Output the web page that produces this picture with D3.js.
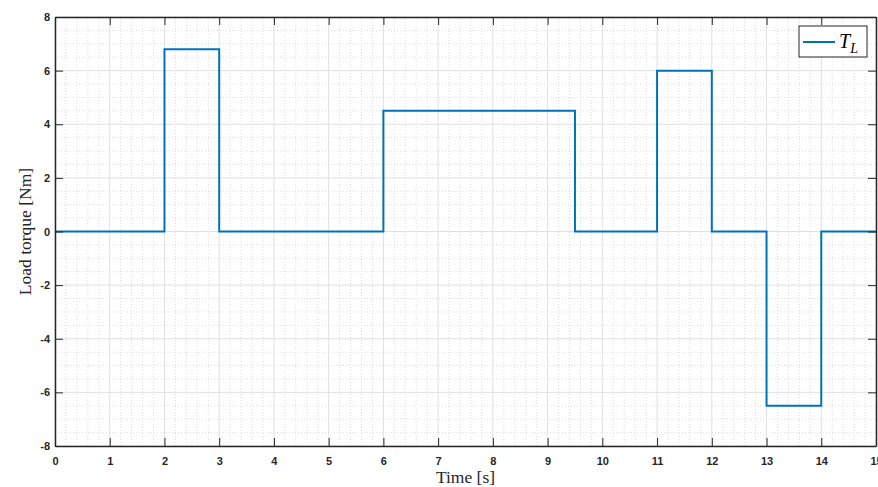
<!DOCTYPE html>
<html>
<head>
<meta charset="utf-8">
<script src="https://cdn.jsdelivr.net/npm/d3@7"></script>
<style>
  body { margin: 0; background: #fff; }
</style>
</head>
<body>
<div id="chart"></div>
<script>
// load torque step profile: value holds from each time until the next one
const stepTimes = [0, 2, 3, 6, 9.5, 11, 12, 13, 14, 15];
const stepValues = [0, 6.8, 0, 4.5, 0, 6, 0, -6.5, 0, 0];
const xTicks = [0, 1, 2, 3, 4, 5, 6, 7, 8, 9, 10, 11, 12, 13, 14, 15];
const yTicks = [-8, -6, -4, -2, 0, 2, 4, 6, 8];

const width = 878, height = 487;
const margin = { top: 17, right: 2, bottom: 41, left: 55 };

const svg = d3.select('#chart').append('svg')
    .attr('width', width)
    .attr('height', height);

const x = d3.scaleLinear().domain([0, 15]).range([margin.left, width - margin.right]);
const y = d3.scaleLinear().domain([-8, 8]).range([height - margin.bottom, margin.top]);

const grid = svg.append('g');
// minor grid
grid.selectAll('.mx')
    .data(d3.range(0, 15.01, 0.2).filter(v => Math.abs(v - Math.round(v)) > 1e-6))
    .enter().append('line')
    .attr('x1', d => x(d)).attr('x2', d => x(d))
    .attr('y1', y(-8)).attr('y2', y(8))
    .attr('stroke', '#d4d4d4').attr('stroke-width', 0.8)
    .attr('stroke-dasharray', '1,2');
grid.selectAll('.my')
    .data(d3.range(-8, 8.01, 0.5).filter(v => Math.abs(v / 2 - Math.round(v / 2)) > 1e-6))
    .enter().append('line')
    .attr('y1', d => y(d)).attr('y2', d => y(d))
    .attr('x1', x(0)).attr('x2', x(15))
    .attr('stroke', '#d4d4d4').attr('stroke-width', 0.8)
    .attr('stroke-dasharray', '1,2');
// major grid
grid.selectAll('.gx').data(xTicks).enter().append('line')
    .attr('x1', d => x(d)).attr('x2', d => x(d))
    .attr('y1', y(-8)).attr('y2', y(8))
    .attr('stroke', '#e0e0e0').attr('stroke-width', 1);
grid.selectAll('.gy').data(yTicks).enter().append('line')
    .attr('y1', d => y(d)).attr('y2', d => y(d))
    .attr('x1', x(0)).attr('x2', x(15))
    .attr('stroke', '#e0e0e0').attr('stroke-width', 1);

// data line
const line = d3.line()
    .x((d, i) => x(stepTimes[i]))
    .y(d => y(d))
    .curve(d3.curveStepAfter);
svg.append('path')
    .datum(stepValues)
    .attr('fill', 'none')
    .attr('stroke', '#0072BD')
    .attr('stroke-width', 2)
    .attr('d', line);

// axes, MATLAB style: ticks inward, box around
const axisColor = '#262626';
const plain = d => String(d);
const styleAxis = g => {
    g.select('.domain').attr('stroke', axisColor).attr('stroke-width', 1.5);
    g.selectAll('.tick line').attr('stroke', axisColor);
    g.selectAll('.tick text')
        .attr('fill', axisColor)
        .style('font-family', 'Liberation Sans, Arial, sans-serif')
        .style('font-size', '11px')
        .style('font-weight', 'bold');
};
svg.append('g')
    .attr('transform', `translate(0,${y(-8)})`)
    .call(d3.axisBottom(x).tickValues(xTicks).tickFormat(plain).tickSize(-8).tickPadding(11).tickSizeOuter(0))
    .call(styleAxis);
svg.append('g')
    .attr('transform', `translate(0,${y(8)})`)
    .call(d3.axisTop(x).tickValues(xTicks).tickSize(-8).tickFormat('').tickSizeOuter(0))
    .call(styleAxis);
svg.append('g')
    .attr('transform', `translate(${x(0)},0)`)
    .call(d3.axisLeft(y).tickValues(yTicks).tickFormat(plain).tickSize(-8).tickPadding(5).tickSizeOuter(0))
    .call(styleAxis);
svg.append('g')
    .attr('transform', `translate(${x(15)},0)`)
    .call(d3.axisRight(y).tickValues(yTicks).tickSize(-8).tickFormat('').tickSizeOuter(0))
    .call(styleAxis);

// axis labels
svg.append('text')
    .attr('x', (x(0) + x(15)) / 2)
    .attr('y', 483)
    .attr('text-anchor', 'middle')
    .style('font-family', 'Liberation Serif, Times New Roman, serif')
    .style('font-size', '17.5px')
    .attr('fill', axisColor)
    .text('Time [s]');
svg.append('text')
    .attr('transform', `translate(31,${(y(-8) + y(8)) / 2}) rotate(-90)`)
    .attr('text-anchor', 'middle')
    .style('font-family', 'Liberation Serif, Times New Roman, serif')
    .style('font-size', '17.5px')
    .attr('fill', axisColor)
    .text('Load torque [Nm]');

// legend
const lg = svg.append('g').attr('transform', 'translate(799,26)');
lg.append('rect')
    .attr('width', 68).attr('height', 31)
    .attr('fill', '#fff').attr('stroke', axisColor).attr('stroke-width', 1);
lg.append('line')
    .attr('x1', 4).attr('x2', 36).attr('y1', 16).attr('y2', 16)
    .attr('stroke', '#0072BD').attr('stroke-width', 2);
const lt = lg.append('text')
    .attr('x', 40).attr('y', 22)
    .style('font-family', 'Liberation Serif, Times New Roman, serif')
    .style('font-size', '20px')
    .style('font-style', 'italic')
    .attr('fill', '#000');
lt.append('tspan').text('T');
lt.append('tspan').attr('dy', 5).style('font-size', '14px').text('L');
</script>
</body>
</html>
